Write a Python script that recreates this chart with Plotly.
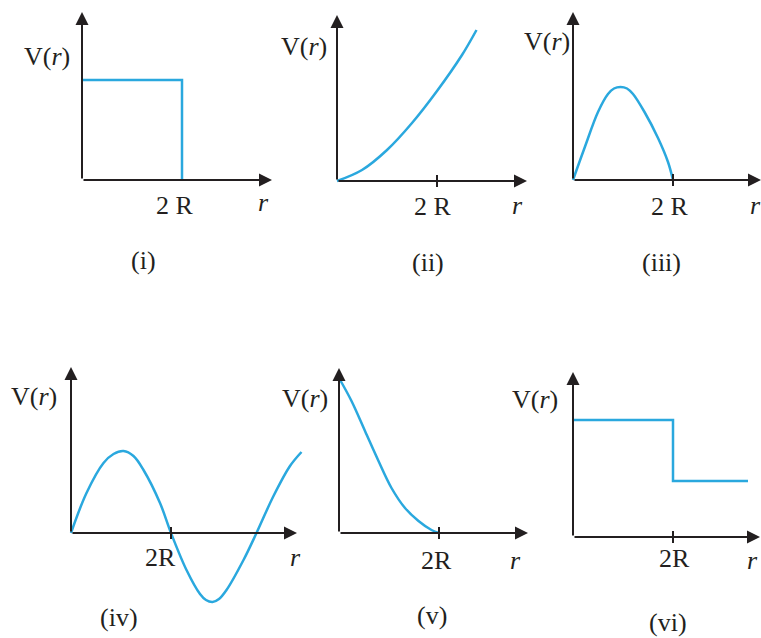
import plotly.graph_objects as go

# Potential curves V(r), r measured in units of R (the tick sits at r = 2)
r_i = [0, 2, 2]
v_i = [1.0, 1.0, 0]

r_ii = [0, 0.5, 1.0, 1.5, 2.0, 2.5, 2.79]
v_ii = [0, 0.11, 0.31, 0.58, 0.90, 1.26, 1.51]

r_iii = [0, 0.23, 0.5, 0.7, 0.82, 0.95, 1.08, 1.2, 1.43, 1.7, 1.9, 2.0]
v_iii = [0, 0.32, 0.68, 0.86, 0.915, 0.93, 0.915, 0.86, 0.68, 0.42, 0.18, 0]

r_iv = [0, 0.31, 0.65, 0.85, 1.05, 1.25, 1.45, 1.78, 2.0, 2.31, 2.58, 2.7, 2.83, 2.96, 3.11, 3.45,
        3.71, 4.05, 4.38, 4.61]
v_iv = [0, 0.40, 0.70, 0.79, 0.82, 0.77, 0.63, 0.30, 0, -0.37, -0.61, -0.67, -0.69, -0.66, -0.57,
        -0.27, 0, 0.37, 0.67, 0.81]

r_v = [0, 0.25, 0.52, 0.79, 1.05, 1.32, 1.59, 1.85, 2.0]
v_v = [1.55, 1.32, 1.02, 0.72, 0.45, 0.25, 0.12, 0.03, 0]

r_vi = [0, 2, 2, 3.5]
v_vi = [1.17, 1.17, 0.56, 0.56]

captions = ["(i)", "(ii)", "(iii)", "(iv)", "(v)", "(vi)"]
tick_text = ["2 R", "2 R", "2 R", "2R", "2R", "2R"]

W, H = 761, 638
SX, SY = 50, 100  # pixels per R and per unit of V
BLUE = "#2aa8de"
INK = "#231f20"
FONT = dict(family="Liberation Serif, Times New Roman, serif", size=26, color=INK)


def px(x):
    return x / W


def py(y):
    return 1 - y / H


# layout of each panel: origin in pixels, axis arrow tips, drawn ranges, shape
panels = [
    dict(r=r_i, v=v_i, o=(82, 180), tip=(3.8, 1.68), xr=(-0.3, 4.0), yr=(-0.3, 1.75), smooth=False, tick=False),
    dict(r=r_ii, v=v_ii, o=(337, 181), tip=(3.8, 1.66), xr=(-0.3, 4.0), yr=(-0.3, 1.75), smooth=True, tick=True),
    dict(r=r_iii, v=v_iii, o=(573, 180), tip=(3.76, 1.68), xr=(-0.3, 3.76), yr=(-0.3, 1.75), smooth=True, tick=True),
    dict(r=r_iv, v=v_iv, o=(71, 533), tip=(4.52, 1.66), xr=(-0.3, 4.8), yr=(-0.85, 1.75), smooth=True, tick=True),
    dict(r=r_v, v=v_v, o=(339, 533), tip=(3.78, 1.65), xr=(-0.3, 4.0), yr=(-0.3, 1.75), smooth=True, tick=True),
    dict(r=r_vi, v=v_vi, o=(573, 537), tip=(3.74, 1.65), xr=(-0.3, 3.76), yr=(-0.3, 1.75), smooth=False, tick=True),
]

# label positions in pixels: V(r), 2R, r, caption
label_pos = [
    dict(V=(47, 57), R=(175, 205), r=(263, 203), c=(143, 260)),
    dict(V=(304, 46), R=(433, 207), r=(517, 205), c=(428, 262)),
    dict(V=(547, 41), R=(670, 206), r=(755, 205), c=(661, 262)),
    dict(V=(34, 396), R=(160, 557), r=(295, 557), c=(119, 617)),
    dict(V=(305, 398), R=(436, 560), r=(515, 560), c=(432, 615)),
    dict(V=(535, 399), R=(674, 558), r=(752, 560), c=(668, 622)),
]

fig = go.Figure()
annotations = []
shapes = []
layout_axes = {}

for i, p in enumerate(panels):
    n = "" if i == 0 else str(i + 1)
    xref, yref = "x" + n, "y" + n
    ox, oy = p["o"]
    layout_axes["xaxis" + n] = dict(
        domain=[max(0, px(ox + p["xr"][0] * SX)), min(1, px(ox + p["xr"][1] * SX))],
        range=list(p["xr"]), visible=False, anchor=yref, fixedrange=True)
    layout_axes["yaxis" + n] = dict(
        domain=[max(0, py(oy - p["yr"][0] * SY)), min(1, py(oy - p["yr"][1] * SY))],
        range=list(p["yr"]), visible=False, anchor=xref, fixedrange=True)

    fig.add_trace(go.Scatter(
        x=p["r"], y=p["v"], mode="lines", xaxis=xref, yaxis=yref,
        line=dict(color=BLUE, width=2.5, shape="spline" if p["smooth"] else "linear", smoothing=1.0),
        showlegend=False, hoverinfo="skip"))

    # axes with arrow heads
    for tx, ty in [(p["tip"][0], 0), (0, p["tip"][1])]:
        annotations.append(dict(
            x=tx, y=ty, ax=0, ay=0, xref=xref, yref=yref, axref=xref, ayref=yref,
            text="", showarrow=True, arrowhead=2, arrowsize=1.3, arrowwidth=2,
            arrowcolor=INK, standoff=0))

    if p["tick"]:
        shapes.append(dict(type="line", xref=xref, yref=yref, x0=2, x1=2,
                           ysizemode="pixel", yanchor=0, y0=-6, y1=6,
                           line=dict(color=INK, width=2)))

    lp = label_pos[i]
    for key, txt in [("V", "V(<i>r</i>)"), ("R", tick_text[i]), ("r", "<i>r</i>"), ("c", captions[i])]:
        x, y = lp[key]
        annotations.append(dict(x=px(x), y=py(y), xref="paper", yref="paper", text=txt,
                                showarrow=False, xanchor="center", yanchor="middle", font=FONT))

fig.update_layout(
    width=W, height=H, margin=dict(l=0, r=0, t=0, b=0),
    paper_bgcolor="white", plot_bgcolor="rgba(0,0,0,0)",
    annotations=annotations, shapes=shapes, **layout_axes)

# drop the browser's default body margin so the figure fills the window
fig.write_html("out.html", config={"displayModeBar": False},
               post_script="document.body.style.margin='0';")
